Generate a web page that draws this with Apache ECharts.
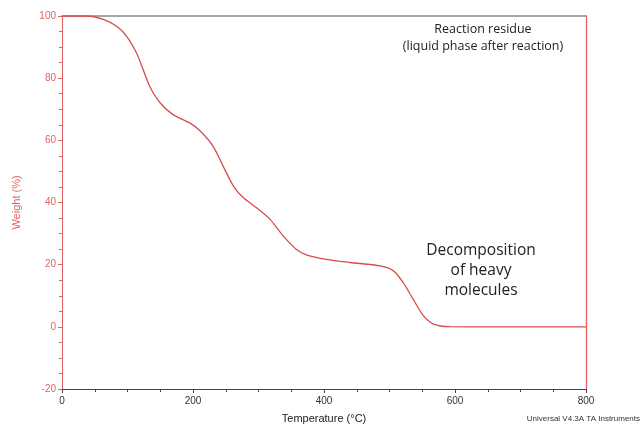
<!DOCTYPE html>
<html><head><meta charset="utf-8">
<script src="https://cdn.jsdelivr.net/npm/echarts@6/dist/echarts.min.js"></script>
<style>html,body{margin:0;padding:0;background:#fff}#c{width:643px;height:429px}</style>
</head><body><div id="c"></div>
<script>
var temperature = [0, 20, 38, 63, 84, 99, 114, 124, 134, 150, 170, 195, 211, 231, 246, 262, 277, 297, 318, 338, 358, 374, 404, 440, 486, 506, 521, 536, 552, 567, 592, 650, 720, 800];
var weight = [100, 100, 100, 98.9, 96.6, 93.4, 88, 82.7, 77.3, 72, 68.2, 65.6, 63, 58, 51.7, 45.2, 41.5, 38.3, 34.5, 29.2, 24.9, 23.1, 21.7, 20.7, 19.6, 18, 14.2, 8.9, 3.5, 0.9, 0.05, 0, 0, 0];
var xTicks = [0, 200, 400, 600, 800];
var yTicks = [-20, 0, 20, 40, 60, 80, 100];

var red = '#e06262';
var chart = echarts.init(document.getElementById('c'));
chart.setOption({
  animation: false,
  grid: {left: 62, right: 57, top: 16, bottom: 39},
  xAxis: [{
    type: 'value', min: xTicks[0], max: xTicks[xTicks.length - 1], interval: 200,
    name: 'Temperature (°C)', nameLocation: 'middle', nameGap: 24,
    nameTextStyle: {color: '#222', fontSize: 11, fontFamily: 'Arial'},
    axisLine: {onZero: false, lineStyle: {color: '#444', width: 1}},
    axisTick: {show: true, length: 4, lineStyle: {color: '#444'}},
    minorTick: {show: true, splitNumber: 4, length: 3, lineStyle: {color: '#444'}},
    axisLabel: {color: '#333', fontSize: 10, fontFamily: 'Arial', margin: 7},
    splitLine: {show: false}
  }, {
    type: 'value', position: 'top', min: 0, max: 800,
    axisLine: {show: true, onZero: false, lineStyle: {color: '#888', width: 1.5}},
    axisTick: {show: false}, axisLabel: {show: false}, splitLine: {show: false}
  }],
  yAxis: [{
    type: 'value', min: yTicks[0], max: yTicks[yTicks.length - 1], interval: 20,
    name: 'Weight (%)', nameLocation: 'middle', nameGap: 40,
    nameTextStyle: {color: red, fontSize: 11, fontFamily: 'Arial'},
    axisLine: {show: true, onZero: false, lineStyle: {color: red, width: 1}},
    axisTick: {show: true, length: 4, lineStyle: {color: red}},
    minorTick: {show: true, splitNumber: 4, length: 3, lineStyle: {color: red}},
    axisLabel: {color: red, fontSize: 10, fontFamily: 'Arial', margin: 6},
    splitLine: {show: false}
  }, {
    type: 'value', position: 'right', min: -20, max: 100,
    axisLine: {show: true, onZero: false, lineStyle: {color: red, width: 1.3}},
    axisTick: {show: false}, axisLabel: {show: false}, splitLine: {show: false}
  }],
  series: [{
    type: 'line', smooth: 0.25, showSymbol: false,
    data: temperature.map(function (t, i) { return [t, weight[i]]; }),
    lineStyle: {color: '#d84c4c', width: 1.3}
  }],
  graphic: [
    {type: 'text', style: {text: 'Reaction residue\n(liquid phase after reaction)', x: 483, y: 21, align: 'center', fill: '#222', font: '12.5px "Open Sans"', lineHeight: 17}},
    {type: 'text', style: {text: 'Decomposition\nof heavy\nmolecules', x: 481, y: 241, align: 'center', fill: '#222', font: '15.5px "Open Sans"', lineHeight: 20}},
    {type: 'text', style: {text: 'Universal V4.3A TA Instruments', x: 640, y: 415, align: 'right', fill: '#333', font: '8px Arial'}}
  ]
});
</script>
</body></html>
